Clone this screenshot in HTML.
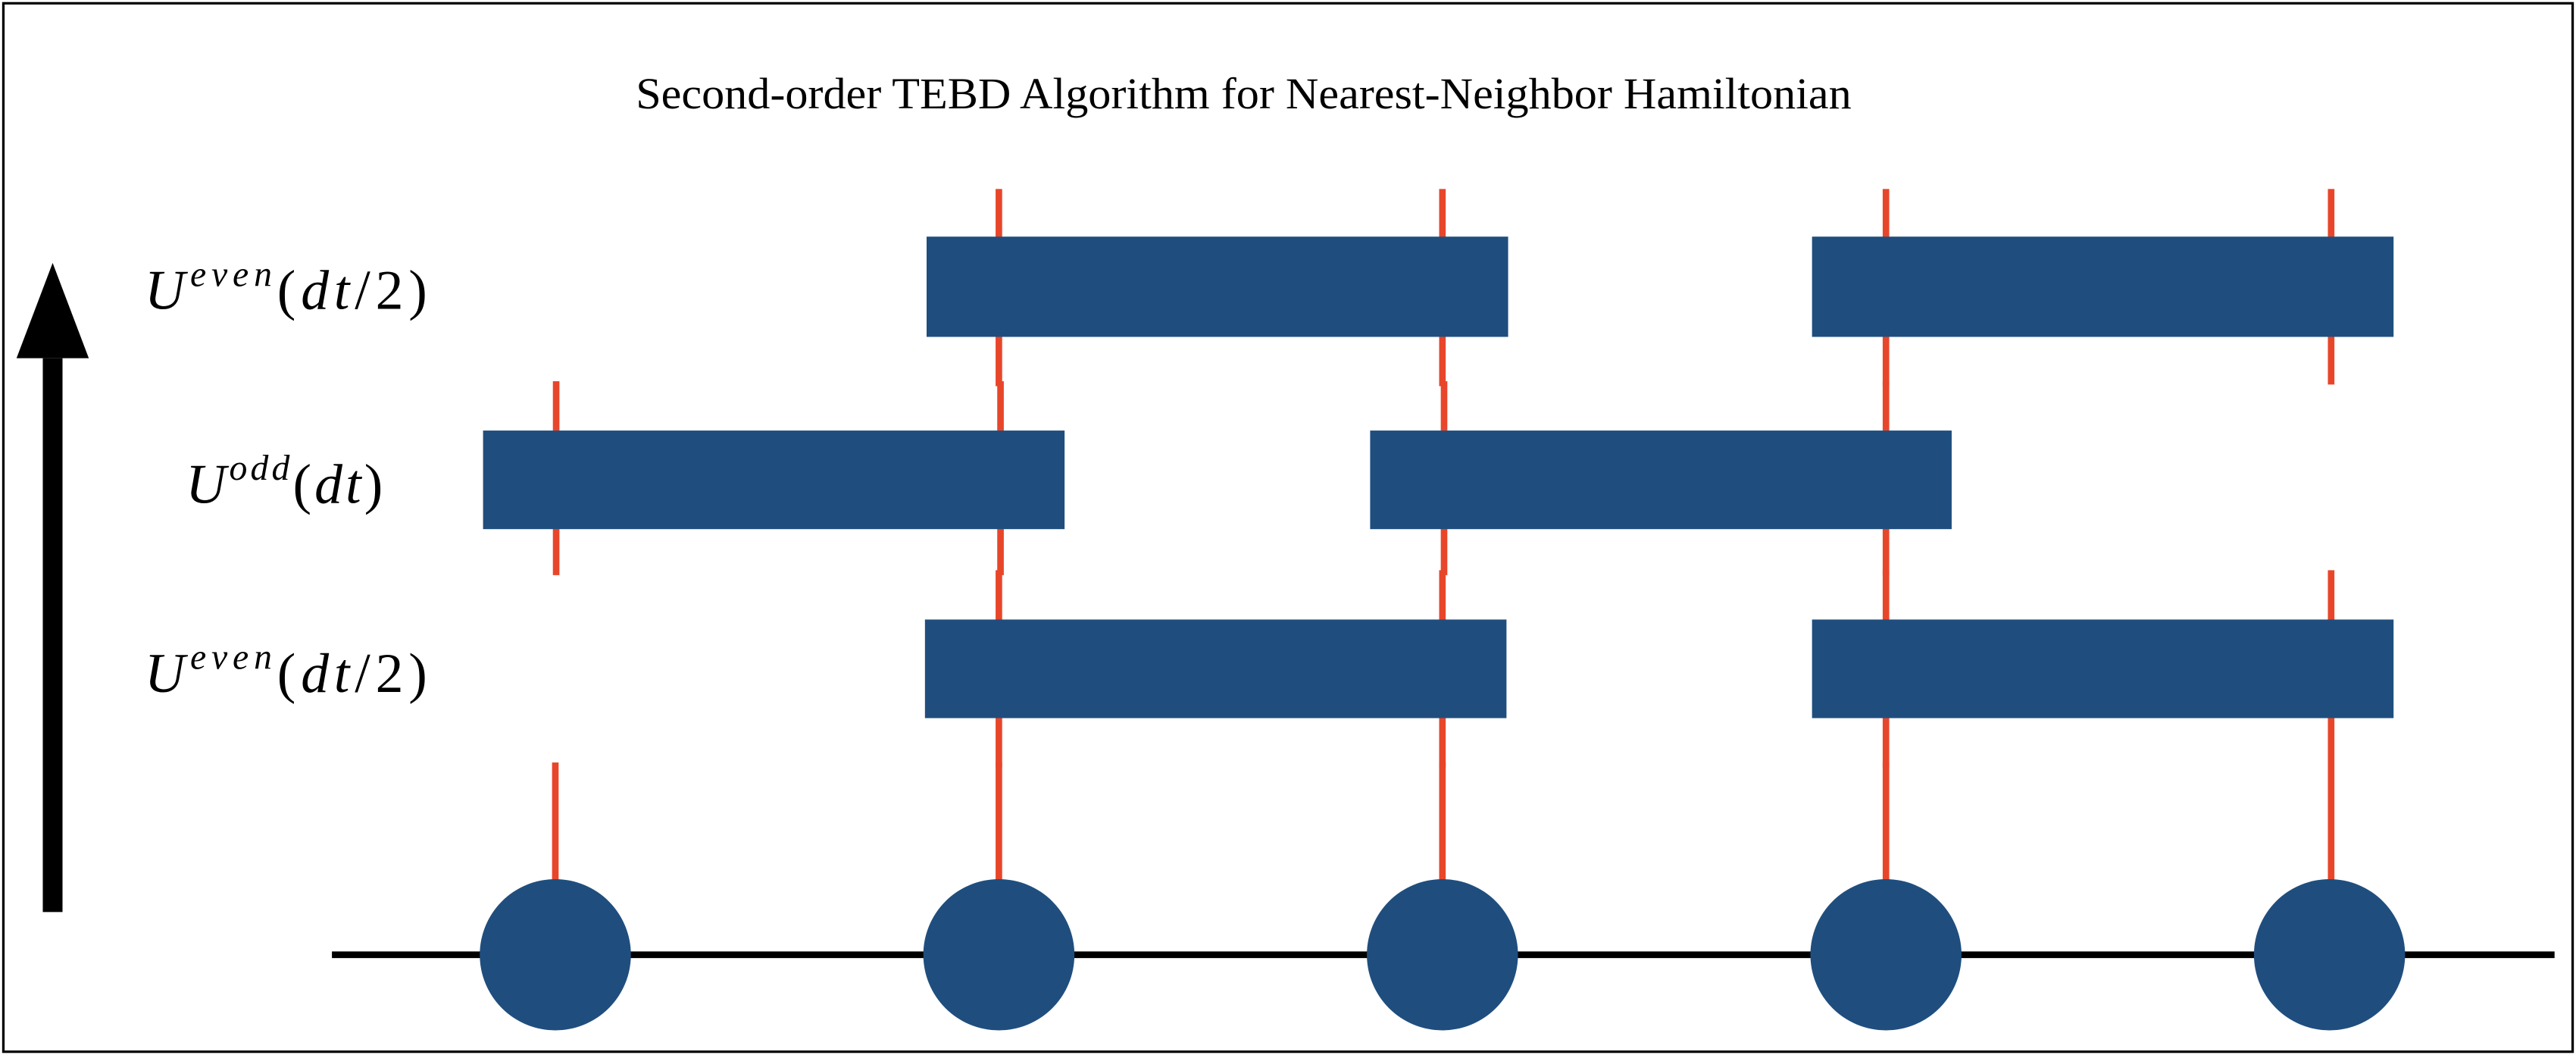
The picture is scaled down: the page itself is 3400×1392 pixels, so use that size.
<!DOCTYPE html>
<html><head><meta charset="utf-8"><style>html,body{margin:0;padding:0;background:#fff}svg{display:block}</style></head>
<body>
<svg width="3400" height="1392" viewBox="0 0 1568 642" xmlns="http://www.w3.org/2000/svg">
<rect x="2" y="2" width="1564" height="638" fill="#fff" stroke="#000" stroke-width="1.5"/>
<text x="757" y="66" text-anchor="middle" font-family="Liberation Serif, serif" font-size="27" textLength="740" lengthAdjust="spacingAndGlyphs">Second-order TEBD Algorithm for Nearest-Neighbor Hamiltonian</text>
<g>
<rect x="26" y="218" width="12" height="337" fill="#000"/>
<polygon points="32,160 10,218 54,218" fill="#000"/>
</g>
<g fill="#e8462a">
<rect x="336.5" y="232" width="4" height="118"/>
<rect x="336" y="464" width="4" height="73"/>
<rect x="606" y="115" width="4" height="120"/>
<rect x="607" y="232" width="4" height="118"/>
<rect x="606" y="347" width="4" height="120"/>
<rect x="606" y="464" width="4" height="73"/>
<rect x="876" y="115" width="4" height="120"/>
<rect x="877" y="232" width="4" height="118"/>
<rect x="876" y="347" width="4" height="120"/>
<rect x="876" y="464" width="4" height="73"/>
<rect x="1146" y="115" width="4" height="120"/>
<rect x="1146" y="232" width="4" height="118"/>
<rect x="1146" y="347" width="4" height="120"/>
<rect x="1146" y="464" width="4" height="73"/>
<rect x="1417" y="115" width="4" height="119"/>
<rect x="1417" y="347" width="4" height="190"/>
</g>
<g fill="#1f4e7e">
<rect x="564" y="144" width="354" height="61"/>
<rect x="1103" y="144" width="354" height="61"/>
<rect x="294" y="262" width="354" height="60"/>
<rect x="834" y="262" width="354" height="60"/>
<rect x="563" y="377" width="354" height="60"/>
<rect x="1103" y="377" width="354" height="60"/>
</g>
<line x1="202" y1="581" x2="1555" y2="581" stroke="#000" stroke-width="4"/>
<g fill="#1f4e7e">
<circle cx="338" cy="581" r="46"/>
<circle cx="608" cy="581" r="46"/>
<circle cx="878" cy="581" r="46"/>
<circle cx="1148" cy="581" r="46"/>
<circle cx="1418" cy="581" r="46"/>
</g>
<g font-family="Liberation Serif, serif" font-size="34" font-style="italic">
<text x="88" y="188" textLength="172" lengthAdjust="spacing">U<tspan font-size="22" dy="-14">even</tspan><tspan dy="14" font-style="normal">(</tspan>dt<tspan font-style="normal">/2)</tspan></text>
<text x="113" y="306" textLength="120" lengthAdjust="spacing">U<tspan font-size="22" dy="-14">odd</tspan><tspan dy="14" font-style="normal">(</tspan>dt<tspan font-style="normal">)</tspan></text>
<text x="88" y="421" textLength="172" lengthAdjust="spacing">U<tspan font-size="22" dy="-14">even</tspan><tspan dy="14" font-style="normal">(</tspan>dt<tspan font-style="normal">/2)</tspan></text>
</g>
</svg>
</body></html>
